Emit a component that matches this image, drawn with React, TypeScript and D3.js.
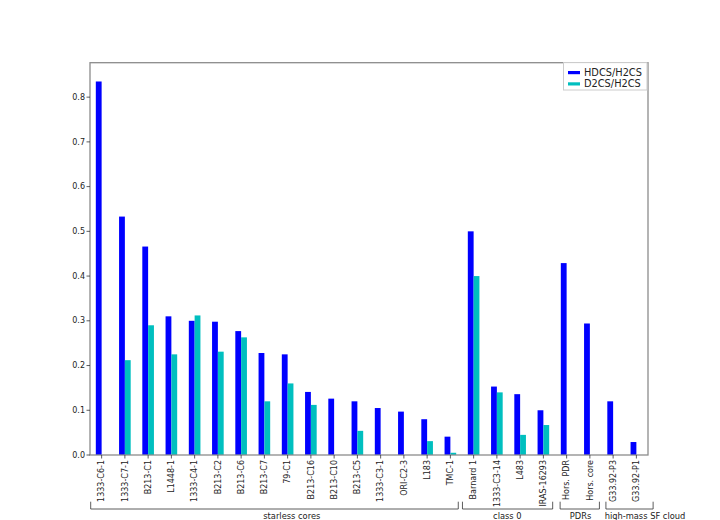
import React from "react";
import * as d3 from "d3";

const categories = [
  "1333-C6-1", "1333-C7-1", "B213-C1", "L1448-1", "1333-C4-1", "B213-C2",
  "B213-C6", "B213-C7", "79-C1", "B213-C16", "B213-C10", "B213-C5",
  "1333-C3-1", "ORI-C2-3", "L183", "TMC-1", "Barnard 1", "1333-C3-14",
  "L483", "IRAS-16293", "Hors. PDR", "Hors. core", "G33.92-P3", "G33.92-P1",
];
const hdcs = [
  0.835, 0.533, 0.466, 0.310, 0.300, 0.298, 0.277, 0.228, 0.225, 0.141, 0.126, 0.120,
  0.105, 0.097, 0.080, 0.041, 0.500, 0.153, 0.136, 0.100, 0.429, 0.294, 0.120, 0.029,
];
const d2cs: (number | null)[] = [
  null, 0.212, 0.290, 0.225, 0.312, 0.231, 0.263, 0.120, 0.160, 0.112, null, 0.054,
  null, null, 0.031, 0.005, 0.400, 0.140, 0.045, 0.067, null, null, null, null,
];
const seriesNames = ["HDCS/H2CS", "D2CS/H2CS"];
const yTicks = [0.0, 0.1, 0.2, 0.3, 0.4, 0.5, 0.6, 0.7, 0.8];
const groupNames = ["starless cores", "class 0", "PDRs", "high-mass SF cloud"];

// layout (axis units): bracket extents and label centres for the groups
const groupBrackets: [number, number][] = [[-0.47, 15.34], [15.52, 19.4], [19.72, 21.41], [21.69, 23.72]];
const groupLabelX = [8.18, 17.45, 20.6, 23.37];

const W = 720, H = 520;
const left = 90, right = 648, top = 62.7, bottom = 455;
const colors = ["#0000ff", "#00bfbf"];
const font = "DejaVu Sans, sans-serif";
const barW = 0.25;

export default function App() {
  const x = d3.scaleLinear().domain([-0.5, categories.length - 0.5]).range([left, right]);
  const y = d3.scaleLinear().domain([0, 0.877]).range([bottom, top]);
  const series = [hdcs, d2cs];
  const axisColor = "#8c8c8c";

  return (
    <svg width={W} height={H} style={{ position: "absolute", left: 0, top: 0, background: "#fff" }}
      fontFamily={font}>
      <rect x={0} y={0} width={W} height={H} fill="#fff" />
      {series.map((vals, s) =>
        vals.map((v, i) =>
          v == null ? null : (
            <rect key={`b${s}-${i}`} x={x(i - barW + s * barW)} y={y(v)}
              width={x(barW) - x(0)} height={y(0) - y(v)} fill={colors[s]} />
          )
        )
      )}
      {/* frame */}
      <rect x={left} y={top} width={right - left} height={bottom - top} fill="none"
        stroke={axisColor} strokeWidth={1.3} />
      {/* y ticks */}
      {yTicks.map((t) => (
        <g key={`y${t}`}>
          <line x1={left - 3.5} x2={left} y1={y(t)} y2={y(t)} stroke="#333" strokeWidth={0.8} />
          <text x={left - 5} y={y(t)} dy="0.33em" textAnchor="end" fontSize={8} fill="#222">
            {t.toFixed(1)}
          </text>
        </g>
      ))}
      {/* x ticks */}
      {categories.map((c, i) => (
        <g key={`x${i}`}>
          <line x1={x(i)} x2={x(i)} y1={bottom} y2={bottom + 3.5} stroke="#333" strokeWidth={0.8} />
          <text transform={`translate(${x(i) + 2.8},${bottom + 5}) rotate(-90)`} textAnchor="end"
            fontSize={8} fill="#222">
            {c}
          </text>
        </g>
      ))}
      {/* group brackets */}
      {groupNames.map((g, k) => {
        const [a, b] = groupBrackets[k];
        const xa = x(a), xb = x(b);
        return (
          <g key={`g${k}`}>
            <path d={`M${xa},501.7V509H${xb}V501.7`} fill="none" stroke="#333" strokeWidth={0.8} />
            <text x={x(groupLabelX[k])} y={518.5} textAnchor="middle" fontSize={8.3} fill="#222">
              {g}
            </text>
          </g>
        );
      })}
      {/* legend */}
      <g>
        <rect x={563.5} y={62.5} width={83.5} height={27.5} fill="#fff" fillOpacity={0.85}
          stroke="#cccccc" strokeWidth={1} />
        {seriesNames.map((n, s) => (
          <g key={`l${s}`}>
            <rect x={568} y={71 + s * 11.3} width={12} height={3.2} fill={colors[s]} />
            <text x={584} y={72.6 + s * 11.3} dy="0.36em" fontSize={9.8} fill="#222">{n}</text>
          </g>
        ))}
      </g>
    </svg>
  );
}
